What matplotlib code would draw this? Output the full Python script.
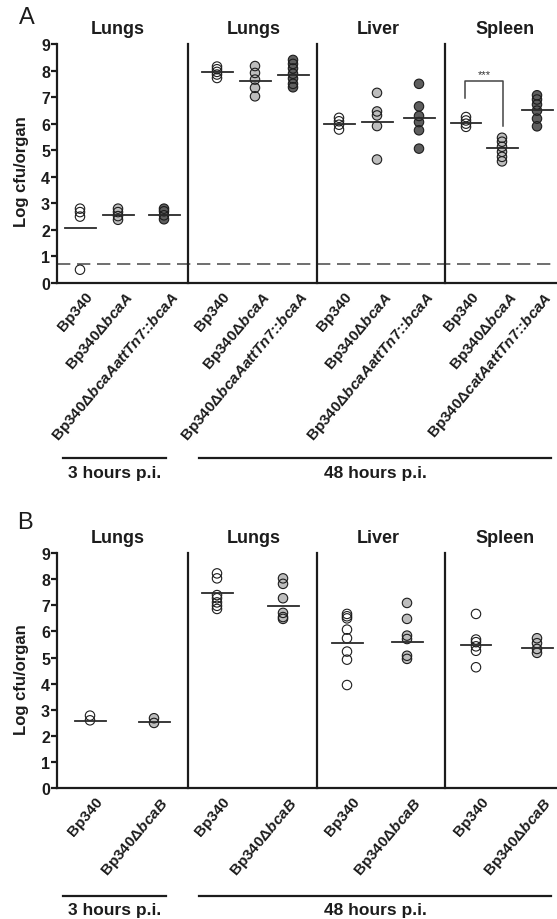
import matplotlib

matplotlib.use("Agg")
import matplotlib.pyplot as plt
from matplotlib.lines import Line2D
from matplotlib.transforms import ScaledTranslation

plt.rcParams["font.family"] = ["Liberation Sans", "DejaVu Sans"]
plt.rcParams["font.weight"] = "bold"
plt.rcParams["mathtext.fontset"] = "custom"
plt.rcParams["mathtext.rm"] = "Liberation Sans"
plt.rcParams["mathtext.it"] = "Liberation Sans:italic:bold"
plt.rcParams["mathtext.bf"] = "Liberation Sans:bold"

# ---- data -----------------------------------------------------------------
ORGANS = ["Lungs", "Lungs", "Liver", "Spleen"]
TIMEPOINTS = ["3 hours p.i.", "48 hours p.i."]

_WT = "Bp340"
_DA = r"Bp340$\Delta\mathit{bcaA}$"
_CA = r"Bp340$\Delta\mathit{bcaAattTn7}$::$\mathit{bcaA}$"
_CC = r"Bp340$\Delta\mathit{catAattTn7}$::$\mathit{bcaA}$"
_DB = r"Bp340$\Delta\mathit{bcaB}$"

A_LABELS = [_WT, _DA, _CA, _WT, _DA, _CA, _WT, _DA, _CA, _WT, _DA, _CC]
A_STRAIN = ["wt", "mut", "comp"] * 4
A_VALUES = [
    [2.80, 2.67, 2.50, 0.50],
    [2.80, 2.67, 2.52, 2.38],
    [2.80, 2.70, 2.55, 2.40],
    [8.15, 8.05, 7.95, 7.85, 7.72],
    [8.17, 7.91, 7.66, 7.35, 7.03],
    [8.40, 8.25, 8.08, 7.88, 7.70, 7.50, 7.37],
    [6.22, 6.09, 5.96, 5.78],
    [7.16, 6.46, 6.31, 5.91, 4.65],
    [7.50, 6.65, 6.29, 6.06, 5.75, 5.06],
    [6.25, 6.12, 6.00, 5.88],
    [5.47, 5.32, 5.13, 4.94, 4.75, 4.58],
    [7.07, 6.91, 6.72, 6.49, 6.19, 5.90],
]
A_MEANS = [2.07, 2.57, 2.57, 7.95, 7.61, 7.85, 5.97, 6.05, 6.21, 6.01, 5.09, 6.50]
A_DETECTION_LIMIT = 0.72
A_SIG_Y = [6.97, 7.62, 5.92]  # left leg bottom, bar top, right leg bottom

B_LABELS = [_WT, _DB] * 4
B_STRAIN = ["wt", "mut"] * 4
B_VALUES = [
    [2.78, 2.60],
    [2.68, 2.50],
    [8.22, 8.03, 7.39, 7.27, 7.11, 6.98, 6.86],
    [8.03, 7.82, 7.27, 6.71, 6.55, 6.48],
    [6.67, 6.58, 6.50, 6.07, 5.74, 5.23, 4.92, 3.95],
    [7.09, 6.48, 5.84, 5.71, 5.07, 4.95],
    [6.67, 5.69, 5.59, 5.43, 5.26, 4.63],
    [5.74, 5.55, 5.33, 5.18],
]
B_MEANS = [2.57, 2.53, 7.46, 6.99, 5.56, 5.61, 5.49, 5.37]

Y_TICKS = list(range(10))

# ---- layout / style -------------------------------------------------------
W, H = 557, 920
SEPARATORS = [13.1, 26.0, 38.8]
A_XPOS = [2.3, 6.1, 10.7, 16.0, 19.8, 23.6, 28.2, 32.0, 36.2, 40.9, 44.5, 48.0]
B_XPOS = [3.3, 9.7, 16.0, 22.6, 29.0, 35.0, 41.9, 48.0]
TITLE_X = [6.1, 19.7, 32.1, 44.8]
FACE = {"wt": "white", "mut": "#bdbdbd", "comp": "#5e5e5e"}
INK = "#1c1c1c"


def fx(px):
    return px / W


def fy(py):
    return 1 - py / H


def draw_panel(fig, ax, xpos, labels, strains, values, means):
    ax.set_xlim(0, 50)
    ax.set_ylim(0, 9)
    for i, vals in enumerate(values):
        xs = [xpos[i]] * len(vals)
        ax.scatter(xs, vals, s=46, c=FACE[strains[i]], edgecolors="none", zorder=3, clip_on=False)
        ax.scatter(xs, vals, s=46, facecolors="none", edgecolors=INK, linewidths=0.8, zorder=4, clip_on=False)
        ax.plot([xpos[i] - 1.55, xpos[i] + 1.55], [means[i]] * 2, color="#2a2a2a", lw=1.3, zorder=5)
    for s in SEPARATORS:
        ax.plot([s, s], [0, 9], color=INK, lw=1.6, zorder=2, clip_on=False)
    for x, t in zip(TITLE_X, ORGANS):
        ax.text(x, 9.6, t, ha="center", va="center", fontsize=13, fontweight="bold", color=INK)

    for sp in ("top", "right"):
        ax.spines[sp].set_visible(False)
    for sp in ("left", "bottom"):
        ax.spines[sp].set_linewidth(1.6)
        ax.spines[sp].set_color(INK)
    ax.set_yticks(Y_TICKS)
    ax.set_yticklabels([str(t) for t in Y_TICKS], fontsize=11.5, fontweight="bold", color=INK)
    ax.tick_params(axis="y", length=4, width=1.6, pad=1, colors=INK)
    ax.set_xticks(xpos)
    ax.set_xticklabels(labels, rotation=50, ha="right", va="top", rotation_mode="anchor",
                       fontsize=11, fontweight="bold", color=INK)
    ax.tick_params(axis="x", length=0, pad=4)
    shift = ScaledTranslation(0.05, 0, fig.dpi_scale_trans)
    for lbl in ax.get_xticklabels():
        lbl.set_transform(lbl.get_transform() + shift)


fig = plt.figure(figsize=(W / 100, H / 100), dpi=100)
fig.patch.set_facecolor("white")

ax_a = fig.add_axes([fx(57), fy(284), fx(500), (284 - 45) / H])
ax_b = fig.add_axes([fx(57), fy(789.3), fx(500), (789.3 - 554) / H])

draw_panel(fig, ax_a, A_XPOS, A_LABELS, A_STRAIN, A_VALUES, A_MEANS)
draw_panel(fig, ax_b, B_XPOS, B_LABELS, B_STRAIN, B_VALUES, B_MEANS)

# detection limit
ax_a.axhline(A_DETECTION_LIMIT, color="#555555", lw=1.2, dashes=(8, 4), zorder=1)

# significance bracket, spleen Bp340 vs mutant
xl, xr = A_XPOS[9] - 0.1, A_XPOS[10] + 0.1
ax_a.plot([xl, xl, xr, xr], [A_SIG_Y[0], A_SIG_Y[1], A_SIG_Y[1], A_SIG_Y[2]],
          color="#444444", lw=1.1, zorder=5)
ax_a.text((xl + xr) / 2, A_SIG_Y[1] + 0.05, "***", ha="center", va="bottom",
          fontsize=8, fontweight="normal", color="#333333")

# panel letters and y labels
fig.text(fx(27), fy(18), "A", ha="center", va="center", fontsize=17, fontweight="normal", color=INK)
fig.text(fx(25), fy(523), "B", ha="center", va="center", fontsize=17, fontweight="normal", color=INK)
fig.text(fx(22), fy(172), "Log cfu/organ", rotation=90, ha="center", va="center",
         fontsize=12, fontweight="bold", color=INK)
fig.text(fx(22), fy(680), "Log cfu/organ", rotation=90, ha="center", va="center",
         fontsize=12, fontweight="bold", color=INK)

# time point brackets under the labels
for line_y, text_y in ((459, 474), (897, 911)):
    for (x0, x1), t in zip(((63, 166), (199, 551)), TIMEPOINTS):
        fig.add_artist(Line2D([fx(x0), fx(x1)], [fy(line_y)] * 2, transform=fig.transFigure,
                              color=INK, lw=1.6))
        fig.text(fx((x0 + x1) / 2), fy(text_y), t, ha="center", va="center",
                 fontsize=12.5, fontweight="bold", color=INK)

fig.savefig("out.png", dpi=100, facecolor="white")
